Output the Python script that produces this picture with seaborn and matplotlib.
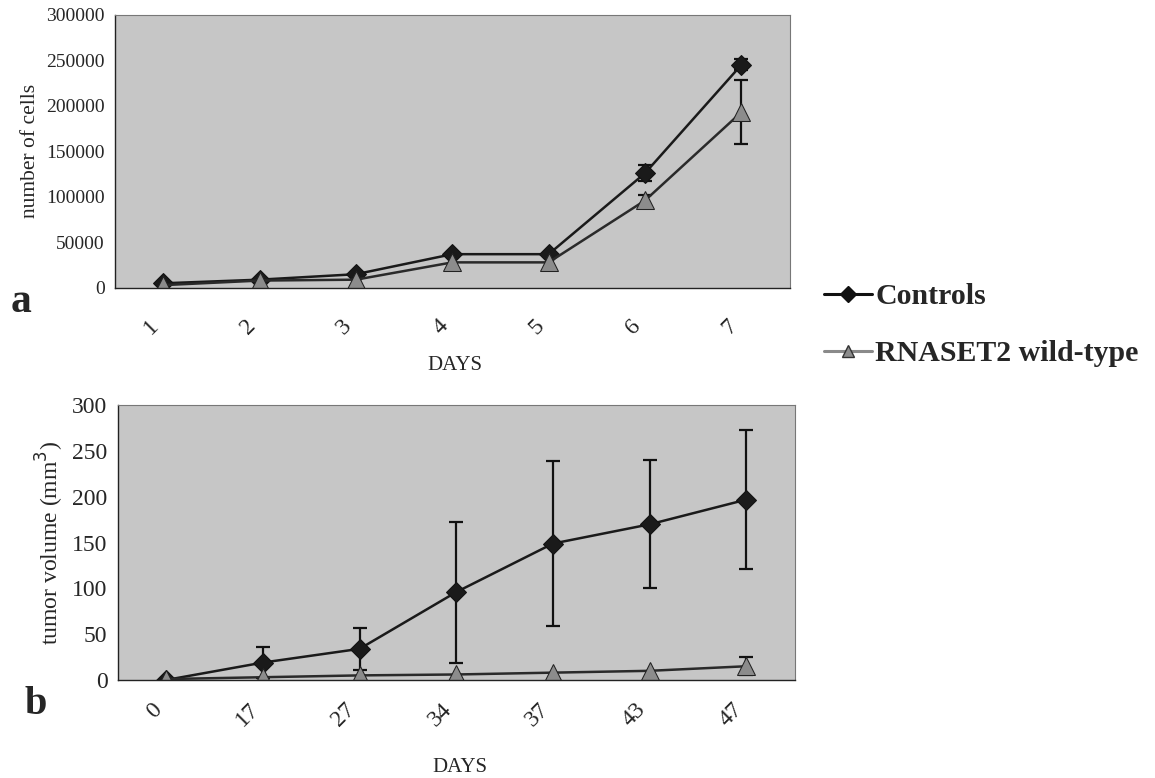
import numpy as np
import pandas as pd
import seaborn as sns
import matplotlib.pyplot as plt
from matplotlib.lines import Line2D

# panel a: cell growth in vitro
days_a = ['1', '2', '3', '4', '5', '6', '7']
cells_ctrl = [5000, 9000, 15000, 37000, 37000, 126000, 245000]
cells_ctrl_err = [0, 0, 0, 0, 0, 9000, 6000]
cells_wt = [3000, 8000, 9000, 28000, 28000, 96000, 193000]
cells_wt_err = [0, 0, 0, 0, 0, 6000, 35000]

# panel b: tumor volume in vivo
days_b = ['0', '17', '27', '34', '37', '43', '47']
vol_ctrl = [0, 19, 34, 96, 149, 170, 197]
vol_ctrl_err = [0, 17, 23, 77, 90, 70, 76]
vol_wt = [1, 3, 5, 6, 8, 10, 15]
vol_wt_err = [0, 0, 0, 0, 0, 0, 10]

sns.set_style("white")
plt.rcParams['font.family'] = ['Liberation Serif', 'DejaVu Serif']

fig = plt.figure(figsize=(11.55, 7.78), dpi=100)
ax_a = fig.add_axes([0.0996, 0.630, 0.584, 0.351])
ax_b = fig.add_axes([0.102, 0.126, 0.586, 0.353])

ctrl_kw = dict(color='#1a1a1a', marker='D', markersize=10, markeredgecolor='#111111',
               linewidth=1.8)
wt_kw = dict(color='#2a2a2a', marker='^', markersize=13, markerfacecolor='#8c8c8c',
             markeredgecolor='#222222', linewidth=1.8)


def add_errors(ax, pos, vals, errs):
    keep = [i for i, e in enumerate(errs) if e > 0]
    ax.errorbar([pos[i] for i in keep], [vals[i] for i in keep],
                yerr=[errs[i] for i in keep], fmt='none', ecolor='#111111',
                elinewidth=1.6, capsize=5, capthick=1.6, zorder=1)


def draw_panel(ax, labels, c, ce, w, we, ymax, ystep, ylabel, ytick_fs, xtick_fs, lab_fs, pad):
    pos = np.arange(len(labels))
    df = pd.DataFrame({'pos': pos, 'ctrl': c, 'wt': w})
    ax.set_facecolor('#c6c6c6')
    sns.lineplot(data=df, x='pos', y='ctrl', ax=ax, **ctrl_kw)
    sns.lineplot(data=df, x='pos', y='wt', ax=ax, **wt_kw)
    add_errors(ax, pos, c, ce)
    add_errors(ax, pos, w, we)
    ax.set_xlim(-0.5, len(labels) - 0.5)
    ax.set_ylim(0, ymax)
    ax.set_yticks(np.arange(0, ymax + 1, ystep))
    ax.set_xticks(pos)
    ax.set_xticks(np.arange(-0.5, len(labels), 1.0), minor=True)
    ax.set_xticklabels(labels, rotation=45, ha='right', fontsize=xtick_fs)
    ax.tick_params(axis='x', which='major', length=0, pad=pad)
    ax.tick_params(axis='x', which='minor', length=4, direction='out', color='#444444')
    ax.tick_params(axis='y', length=4, direction='out', labelsize=ytick_fs, color='#444444')
    ax.set_xlabel('')
    ax.set_ylabel(ylabel, fontsize=lab_fs)
    for side in ['top', 'right']:
        ax.spines[side].set_color('#777777')
        ax.spines[side].set_linewidth(0.8)
    for side in ['left', 'bottom']:
        ax.spines[side].set_color('#222222')
        ax.spines[side].set_linewidth(1.0)


draw_panel(ax_a, days_a, cells_ctrl, cells_ctrl_err, cells_wt, cells_wt_err,
           300000, 50000, 'number of cells', 14, 17, 15.5, 20)
draw_panel(ax_b, days_b, vol_ctrl, vol_ctrl_err, vol_wt, vol_wt_err,
           300, 50, 'tumor volume (mm$^3$)', 17, 17, 17, 14)

fig.text(0.394, 0.530, 'DAYS', ha='center', va='center', fontsize=15)
fig.text(0.398, 0.014, 'DAYS', ha='center', va='center', fontsize=15)

fig.text(0.018, 0.612, 'a', fontsize=30, fontweight='bold', va='center', ha='center')
fig.text(0.031, 0.095, 'b', fontsize=29, fontweight='bold', va='center', ha='center')

handles = [
    Line2D([], [], color='#111111', marker='D', markersize=8, linewidth=2.2),
    Line2D([], [], color='#8a8a8a', marker='^', markersize=9, markerfacecolor='#8c8c8c',
           markeredgecolor='#333333', linewidth=2.2),
]
fig.legend(handles, ['Controls', 'RNASET2 wild-type'], loc='center left',
           bbox_to_anchor=(0.690, 0.582), frameon=False, handlelength=1.6,
           handletextpad=0.12, labelspacing=1.0,
           prop={'family': 'Liberation Serif', 'weight': 'bold', 'size': 21.5})

fig.savefig('out.png', dpi=100)
